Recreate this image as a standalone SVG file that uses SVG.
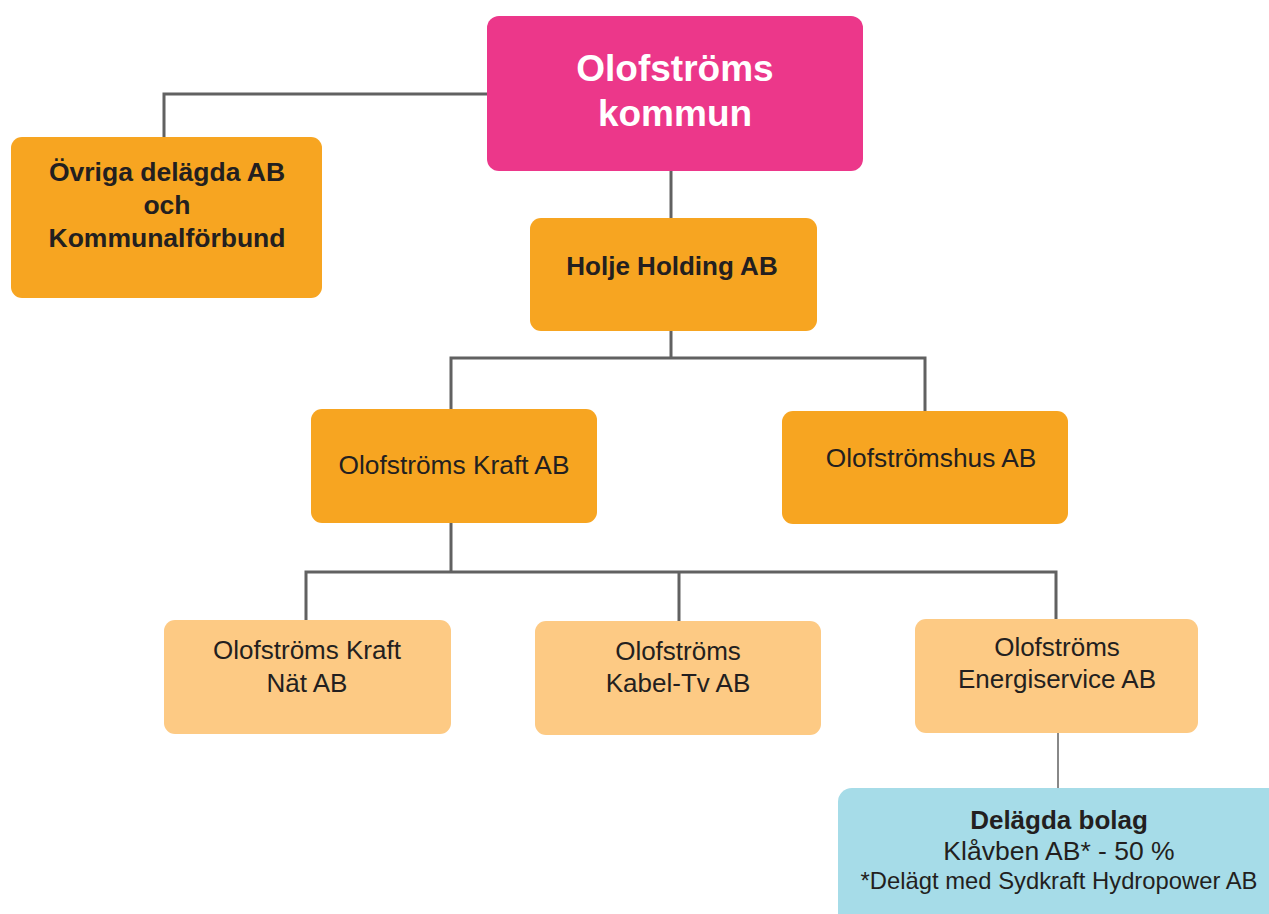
<svg xmlns="http://www.w3.org/2000/svg" width="1269" height="914" viewBox="0 0 1269 914">
<style>
.t{font-family:"Liberation Sans",Arial,sans-serif;fill:#231F20;text-anchor:middle}
.b{font-weight:bold}
.w{fill:#FFFFFF}
.c{fill:none;stroke:#616161;stroke-width:3}
.o{fill:#F7A521}
.l{fill:#FDCA84}
</style>
<rect width="1269" height="914" fill="#FFFFFF"/>
<g id="connectors">
<polyline class="c" points="487,94 164,94 164,137"/>
<line class="c" x1="671" y1="171" x2="671" y2="218"/>
<polyline class="c" points="671,331 671,358"/>
<polyline class="c" points="451,409 451,358 925,358 925,411"/>
<line class="c" x1="451" y1="523" x2="451" y2="572"/>
<polyline class="c" points="306,620 306,572 1056,572 1056,619"/>
<line class="c" x1="679" y1="572" x2="679" y2="621"/>
<line x1="1058" y1="733" x2="1058" y2="788" stroke="#616161" stroke-width="1.5"/>
</g>
<g id="kommun">
<rect x="487" y="16" width="376" height="155" rx="12" fill="#EC378A"/>
<text class="t b w" x="675" y="81" font-size="37">Olofströms</text>
<text class="t b w" x="675" y="126" font-size="37">kommun</text>
</g>
<g id="ovriga">
<rect class="o" x="11" y="137" width="311" height="161" rx="11"/>
<text class="t b" x="167" y="181" font-size="26.5">Övriga delägda AB</text>
<text class="t b" x="167" y="214" font-size="26.5">och</text>
<text class="t b" x="167" y="247" font-size="26.5">Kommunalförbund</text>
</g>
<g id="holje">
<rect class="o" x="530" y="218" width="287" height="113" rx="11"/>
<text class="t b" x="672" y="275" font-size="26">Holje Holding AB</text>
</g>
<g id="kraft">
<rect class="o" x="311" y="409" width="286" height="114" rx="11"/>
<text class="t" x="454" y="474" font-size="26.3">Olofströms Kraft AB</text>
</g>
<g id="hus">
<rect class="o" x="782" y="411" width="286" height="113" rx="11"/>
<text class="t" x="931" y="467" font-size="26.3">Olofströmshus AB</text>
</g>
<g id="nat">
<rect class="l" x="164" y="620" width="287" height="114" rx="11"/>
<text class="t" x="307" y="659" font-size="26">Olofströms Kraft</text>
<text class="t" x="307" y="692" font-size="26">Nät AB</text>
</g>
<g id="kabel">
<rect class="l" x="535" y="621" width="286" height="114" rx="11"/>
<text class="t" x="678" y="660" font-size="26">Olofströms</text>
<text class="t" x="678" y="692" font-size="26">Kabel-Tv AB</text>
</g>
<g id="energi">
<rect class="l" x="915" y="619" width="283" height="114" rx="11"/>
<text class="t" x="1057" y="656" font-size="26">Olofströms</text>
<text class="t" x="1057" y="688" font-size="26">Energiservice AB</text>
</g>
<g id="delagda">
<rect x="838" y="788" width="445" height="140" rx="14" fill="#A6DCE8"/>
<text class="t b" x="1059" y="829" font-size="26">Delägda bolag</text>
<text class="t" x="1059" y="860" font-size="26.5">Klåvben AB* - 50 %</text>
<text class="t" x="1059" y="889" font-size="23.8">*Delägt med Sydkraft Hydropower AB</text>
</g>
</svg>
